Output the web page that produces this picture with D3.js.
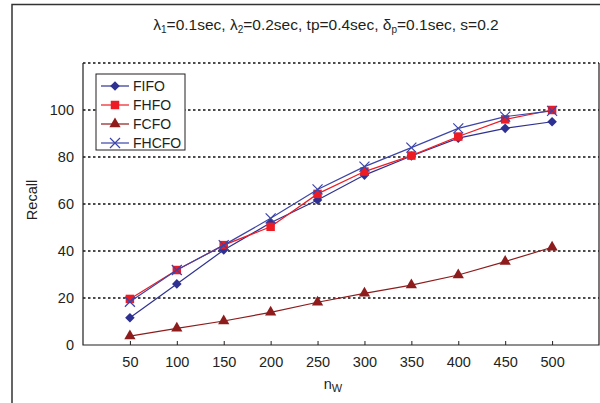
<!DOCTYPE html>
<html>
<head>
<meta charset="UTF-8">
<title>Recall</title>
<style>
  body { margin: 0; background: #fff; }
  text { font-family: "Liberation Sans", Arial, sans-serif; fill: #231f20; }
</style>
</head>
<body>
<div id="chart"></div>
<script src="https://d3js.org/d3.v7.min.js"></script>
<script>
var w = 600, h = 403;
var nw = [50, 100, 150, 200, 250, 300, 350, 400, 450, 500];
var fifo  = [11.6, 26, 40.4, 52, 61.7, 72.3, 80.4, 88, 92.2, 95];
var fhfo  = [19.6, 31.9, 42.5, 50.3, 64.3, 73.8, 80.6, 88.7, 96, 100];
var fcfo  = [3.8, 7.1, 10.2, 13.9, 18.2, 22, 25.5, 29.8, 35.5, 41.6];
var fhcfo = [18.4, 31.9, 42.5, 53.9, 66.2, 75.9, 84, 92.2, 97.2, 99.6];
var yTicks = [0, 20, 40, 60, 80, 100];
var seriesNames = ["FIFO", "FHFO", "FCFO", "FHCFO"];

var series = [
    {name: "FIFO", vals: fifo, color: "#2e3192", mark: "diamond"},
    {name: "FHFO", vals: fhfo, color: "#ed1c24", mark: "square"},
    {name: "FCFO", vals: fcfo, color: "#8e1c1c", mark: "triangle"},
    {name: "FHCFO", vals: fhcfo, color: "#3b45a8", mark: "cross"}
];

var pLeft = 83, pRight = 599, pTop = 63, pBottom = 345;

var svg = d3.select("#chart").append("svg")
    .attr("width", w).attr("height", h);

// outer frame
svg.append("path")
    .attr("d", "M12," + h + "V4.5H" + w)
    .attr("fill", "none").attr("stroke", "#333").attr("stroke-width", 1.5);

svg.append("text")
    .attr("x", 326).attr("y", 30)
    .attr("text-anchor", "middle")
    .style("font-size", "15.5px")
    .html('&#955;<tspan dy="3" font-size="10">1</tspan><tspan dy="-3">=0.1sec, &#955;</tspan><tspan dy="3" font-size="10">2</tspan><tspan dy="-3">=0.2sec, tp=0.4sec, &#948;</tspan><tspan dy="3" font-size="10">p</tspan><tspan dy="-3">=0.1sec, s=0.2</tspan>');

var x = d3.scaleLinear().domain([0, 550]).range([pLeft, pRight]);
var y = d3.scaleLinear().domain([0, 120]).range([pBottom, pTop]);

// dotted grid
svg.selectAll(".grid").data([20, 40, 60, 80, 100, 120]).enter()
    .append("line")
    .attr("x1", pLeft).attr("x2", pRight)
    .attr("y1", function(d) { return y(d); })
    .attr("y2", function(d) { return y(d); })
    .attr("stroke", "#111").attr("stroke-width", 1.6)
    .attr("stroke-dasharray", "2.5,2.5");

// solid borders
svg.append("path")
    .attr("d", "M" + pLeft + "," + pTop + "V" + pBottom + "H" + pRight + "V" + pTop)
    .attr("fill", "none").attr("stroke", "#231f20").attr("stroke-width", 1.2);

// x ticks
var xAxis = svg.append("g").attr("transform", "translate(0," + pBottom + ")")
    .call(d3.axisBottom(x).tickValues(nw).tickSizeInner(-4).tickSizeOuter(0).tickPadding(12));
xAxis.select(".domain").remove();
xAxis.selectAll("line").attr("stroke", "#231f20");
xAxis.selectAll("text").style("font-size", "14.5px").attr("fill", "#231f20")
    .style("font-family", '"Liberation Sans", Arial, sans-serif');

// y ticks
var yAxis = svg.append("g").attr("transform", "translate(" + pLeft + ",0)")
    .call(d3.axisLeft(y).tickValues(yTicks).tickSize(0).tickPadding(9));
yAxis.select(".domain").remove();
yAxis.selectAll("text").style("font-size", "14.5px").attr("fill", "#231f20")
    .style("font-family", '"Liberation Sans", Arial, sans-serif');

svg.append("text")
    .attr("transform", "translate(37,200) rotate(-90)")
    .attr("text-anchor", "middle")
    .style("font-size", "14.5px")
    .text("Recall");

svg.append("text")
    .attr("x", 333).attr("y", 389)
    .attr("text-anchor", "middle")
    .style("font-size", "14.5px")
    .html('n<tspan dy="3" font-size="11">W</tspan>');

var symbols = {
    diamond: d3.symbol().type(d3.symbolSquare).size(46),
    square: d3.symbol().type(d3.symbolSquare).size(72),
    triangle: d3.symbol().type(d3.symbolTriangle).size(55)
};

function drawMark(g, s, px, py) {
    if (s.mark === "cross") {
        g.append("path")
            .attr("d", "M" + (px - 5) + "," + (py - 5) + "L" + (px + 5) + "," + (py + 5) +
                       "M" + (px - 5) + "," + (py + 5) + "L" + (px + 5) + "," + (py - 5))
            .attr("stroke", s.color).attr("stroke-width", 1.2).attr("fill", "none");
    } else {
        g.append("path")
            .attr("d", symbols[s.mark]())
            .attr("transform", "translate(" + px + "," + py + ")" + (s.mark === "diamond" ? " rotate(45)" : ""))
            .attr("fill", s.color);
    }
}

var line = d3.line()
    .x(function(d, i) { return x(nw[i]); })
    .y(function(d) { return y(d); });

series.forEach(function(s) {
    var g = svg.append("g");
    g.append("path")
        .attr("d", line(s.vals))
        .attr("fill", "none").attr("stroke", s.color).attr("stroke-width", 1.2);
    s.vals.forEach(function(v, i) {
        drawMark(g, s, x(nw[i]), y(v));
    });
});

// legend
var lg = svg.append("g");
lg.append("rect")
    .attr("x", 96).attr("y", 74).attr("width", 89).attr("height", 76)
    .attr("fill", "#fff").attr("stroke", "#231f20").attr("stroke-width", 1);
series.forEach(function(s, i) {
    var ly = 86 + i * 19;
    lg.append("line")
        .attr("x1", 101).attr("x2", 129).attr("y1", ly).attr("y2", ly)
        .attr("stroke", s.color).attr("stroke-width", 1.2);
    drawMark(lg, s, 115, ly);
    lg.append("text")
        .attr("x", 133).attr("y", ly + 5)
        .style("font-size", "14px")
        .text(seriesNames[i]);
});
</script>
</body>
</html>
